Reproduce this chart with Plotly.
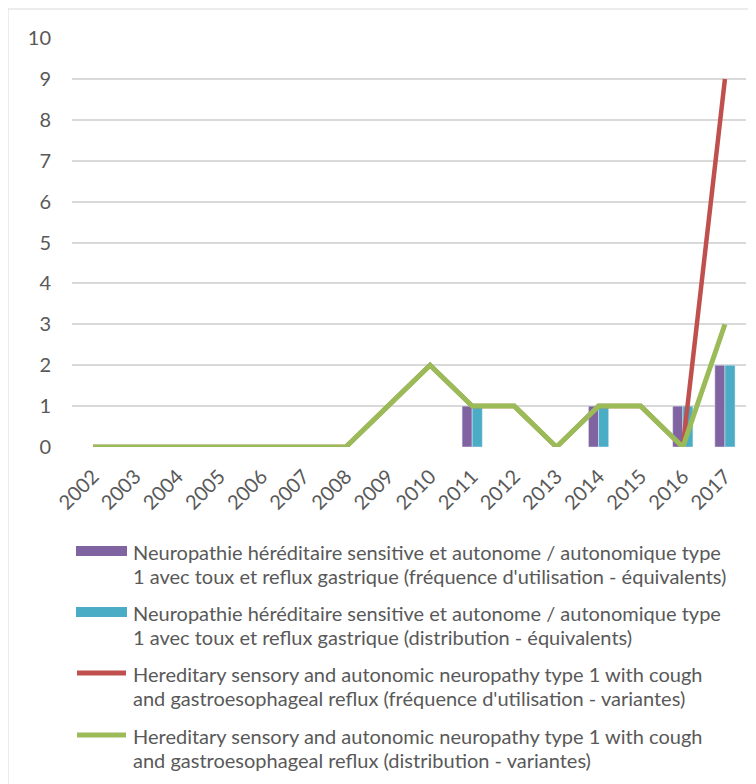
import plotly.graph_objects as go

years = [str(y) for y in range(2002, 2018)]

freq_equiv = [None, None, None, None, None, None, None, None, None, 1, None, None, 1, None, 1, 2]
dist_equiv = [None, None, None, None, None, None, None, None, None, 1, None, None, 1, None, 1, 2]
freq_var = [0, 0, 0, 0, 0, 0, 0, 1, 2, 1, 1, 0, 1, 1, 0, 9]
dist_var = [0, 0, 0, 0, 0, 0, 0, 1, 2, 1, 1, 0, 1, 1, 0, 3]

names = [
    ["Neuropathie héréditaire sensitive et autonome / autonomique type",
     "1 avec toux et reflux gastrique (fréquence d'utilisation - équivalents)"],
    ["Neuropathie héréditaire sensitive et autonome / autonomique type",
     "1 avec toux et reflux gastrique (distribution - équivalents)"],
    ["Hereditary sensory and autonomic neuropathy type 1 with cough",
     "and gastroesophageal reflux (fréquence d'utilisation - variantes)"],
    ["Hereditary sensory and autonomic neuropathy type 1 with cough",
     "and gastroesophageal reflux (distribution - variantes)"],
]
colors = ["#8064a2", "#4bacc6", "#c0504d", "#9bbb59"]

FONT = "Lato, Open Sans, sans-serif"
GREY = "#595959"

# page body has an 8px margin, so work in page pixels and shift back
OFF = 8
W, H = 756, 784
L, R, T, B = 72 - OFF, 746 - OFF, 38 - OFF, 447 - OFF


def px_x(p):
    return (p - OFF - L) / (R - L)


def px_y(p):
    return (B - (p - OFF)) / (B - T)


fig = go.Figure()
fig.add_trace(go.Bar(x=years, y=freq_equiv, name=" ".join(names[0]), marker_color=colors[0]))
fig.add_trace(go.Bar(x=years, y=dist_equiv, name=" ".join(names[1]), marker_color=colors[1]))
fig.add_trace(go.Scatter(x=years, y=freq_var, name=" ".join(names[2]), mode="lines",
                         line=dict(color=colors[2], width=4.5)))
fig.add_trace(go.Scatter(x=years, y=dist_var, name=" ".join(names[3]), mode="lines",
                         line=dict(color=colors[3], width=5)))

# outer chart border
fig.add_shape(type="rect", xref="paper", yref="paper",
              x0=px_x(8), x1=px_x(800), y0=px_y(820), y1=px_y(9),
              line=dict(color="#d9d9d9", width=1), fillcolor="rgba(0,0,0,0)", layer="below")

# legend drawn by hand (wide swatches like the original)
rows = [551, 612, 673, 735]
for i, (lines, c, yy) in enumerate(zip(names, colors, rows)):
    if i < 2:
        fig.add_shape(type="rect", xref="paper", yref="paper",
                      x0=px_x(76), x1=px_x(127), y0=px_y(yy + 5), y1=px_y(yy - 5),
                      line=dict(width=0), fillcolor=c)
    else:
        fig.add_shape(type="line", xref="paper", yref="paper",
                      x0=px_x(77), x1=px_x(126), y0=px_y(yy), y1=px_y(yy),
                      line=dict(color=c, width=5))
    for k, txt in enumerate(lines):
        fig.add_annotation(x=px_x(131), y=px_y(yy + 1 + 24 * k), xref="paper", yref="paper",
                           xanchor="left", yanchor="middle", align="left", showarrow=False,
                           text=txt, font=dict(size=20, color=GREY, family=FONT))

fig.update_layout(
    width=W, height=H,
    margin=dict(l=L, r=W - R, t=T, b=H - B),
    paper_bgcolor="white", plot_bgcolor="white",
    font=dict(family=FONT, color=GREY),
    barmode="group", bargap=0.52, bargroupgap=0,
    showlegend=False,
    xaxis=dict(
        type="category", tickangle=-45, showgrid=False, zeroline=False,
        showline=False, ticks="", tickfont=dict(size=20, color=GREY), automargin=False,
        ticklabelstandoff=13,
    ),
    yaxis=dict(
        range=[0, 10], dtick=1, showgrid=True, gridcolor="#d9d9d9", gridwidth=1.5,
        zeroline=False, showline=False, ticks="", tickfont=dict(size=20, color=GREY),
        ticklabelstandoff=20, automargin=False,
    ),
)

fig.write_html("out.html")
